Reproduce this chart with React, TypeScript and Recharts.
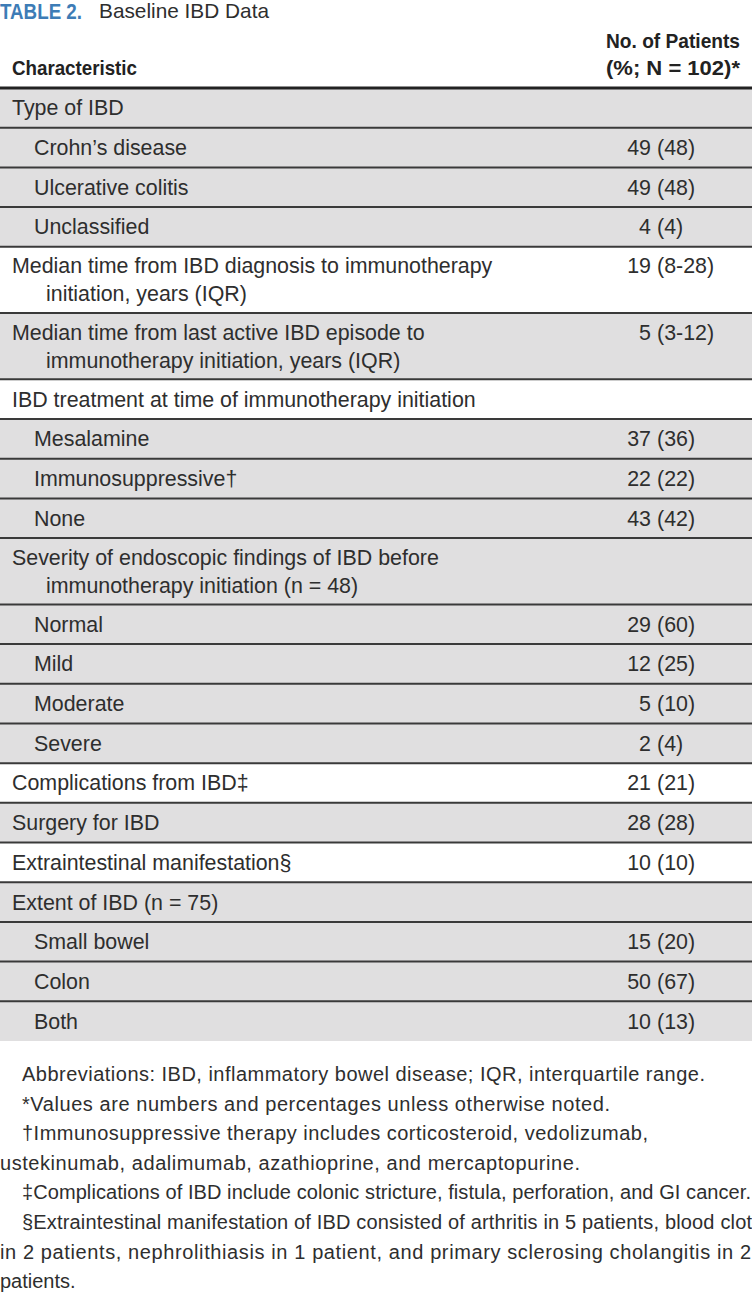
import React from "react";
import { ReferenceArea, ReferenceLine, Scatter, ScatterChart, XAxis, YAxis } from "recharts";

// table rows, top to bottom ("\n" marks where the printed label wraps)
const characteristics = [
  "Type of IBD",
  "Crohn’s disease",
  "Ulcerative colitis",
  "Unclassified",
  "Median time from IBD diagnosis to immunotherapy\ninitiation, years (IQR)",
  "Median time from last active IBD episode to\nimmunotherapy initiation, years (IQR)",
  "IBD treatment at time of immunotherapy initiation",
  "Mesalamine",
  "Immunosuppressive†",
  "None",
  "Severity of endoscopic findings of IBD before\nimmunotherapy initiation (n = 48)",
  "Normal",
  "Mild",
  "Moderate",
  "Severe",
  "Complications from IBD‡",
  "Surgery for IBD",
  "Extraintestinal manifestation§",
  "Extent of IBD (n = 75)",
  "Small bowel",
  "Colon",
  "Both",
];
const subItem = [false, true, true, true, false, false, false, true, true, true, false, true, true, true, true, false, false, false, false, true, true, true];
const patients: (number | null)[] = [null, 49, 49, 4, 19, 5, null, 37, 22, 43, null, 29, 12, 5, 2, 21, 28, 10, null, 15, 50, 10];
const percents: (string | null)[] = [null, "48", "48", "4", "8-28", "3-12", null, "36", "22", "42", null, "60", "25", "10", "4", "21", "28", "10", null, "20", "67", "13"];
const shaded = [true, true, true, true, false, true, false, true, true, true, true, true, true, true, true, false, true, false, true, true, true, true];

const footnotes = [
  "Abbreviations: IBD, inflammatory bowel disease; IQR, interquartile range.",
  "*Values are numbers and percentages unless otherwise noted.",
  "†Immunosuppressive therapy includes corticosteroid, vedolizumab,",
  "ustekinumab, adalimumab, azathioprine, and mercaptopurine.",
  "‡Complications of IBD include colonic stricture, fistula, perforation, and GI cancer.",
  "§Extraintestinal manifestation of IBD consisted of arthritis in 5 patients, blood clot",
  "in 2 patients, nephrolithiasis in 1 patient, and primary sclerosing cholangitis in 2",
  "patients.",
];
const footnoteIndent = [true, true, true, false, true, true, false, false];
const footnoteWidth: (number | null)[] = [683, 588, 626, 580, 729, 730, 751, null];

const FONT = "'Liberation Sans', Arial, sans-serif";
const NARROW = "'Liberation Sans Narrow', 'Liberation Sans', Arial, sans-serif";
const TEXT = "#2e2e2e";
const GRAY = "#e0dfe0";

const ONE_LINE = 1;
const TWO_LINES = 1.67;

let acc = 0;
const rows = characteristics.map((label, i) => {
  const h = label.includes("\n") ? TWO_LINES : ONE_LINE;
  const top = acc;
  acc += h;
  return {
    x: 0,
    y: top + h / 2,
    top,
    bottom: acc,
    label,
    sub: subItem[i],
    count: patients[i],
    pct: percents[i],
    shaded: shaded[i],
  };
});
const total = acc;

function RowText(props: any) {
  const { cx, cy, payload } = props;
  const lines: string[] = payload.label.split("\n");
  const gap = 28;
  const y0 = lines.length > 1 ? cy - gap / 2 : cy;
  const x0 = cx + (payload.sub ? 34 : 12);
  const common = { fontFamily: FONT, fontSize: 21.4, fill: TEXT, dy: "0.35em" };
  return (
    <g>
      {lines.map((t, k) => (
        <text key={k} x={k === 0 ? x0 : x0 + 34} y={y0 + k * gap} {...common}>
          {t}
        </text>
      ))}
      {payload.count !== null && (
        <>
          <text x={cx + 651} y={y0} textAnchor="end" {...common}>
            {payload.count}
          </text>
          <text x={cx + 657} y={y0} {...common}>
            ({payload.pct})
          </text>
        </>
      )}
    </g>
  );
}

export default function App() {
  return (
    <div style={{ position: "absolute", left: 0, top: 0, width: 752, height: 1295, background: "#fff", overflow: "hidden" }}>
      <svg width={752} height={88} style={{ position: "absolute", left: 0, top: 0 }}>
        <text x={0} y={11} dy="0.35em" fontFamily={NARROW} fontWeight="bold" fontSize={22} fill="#3d7cb6" textLength={82} lengthAdjust="spacingAndGlyphs">
          TABLE 2.
        </text>
        <text x={99} y={11} dy="0.35em" fontFamily={FONT} fontSize={21} fill={TEXT} textLength={170} lengthAdjust="spacingAndGlyphs">
          Baseline IBD Data
        </text>
        <text x={12} y={68} dy="0.35em" fontFamily={NARROW} fontWeight="bold" fontSize={21} fill="#222" textLength={125} lengthAdjust="spacingAndGlyphs">
          Characteristic
        </text>
        <text x={740} y={41} dy="0.35em" textAnchor="end" fontFamily={NARROW} fontWeight="bold" fontSize={21} fill="#222" textLength={134} lengthAdjust="spacingAndGlyphs">
          No. of Patients
        </text>
        <text x={740} y={68} dy="0.35em" textAnchor="end" fontFamily={NARROW} fontWeight="bold" fontSize={21} fill="#222" textLength={134} lengthAdjust="spacingAndGlyphs">
          (%; N = 102)*
        </text>
      </svg>

      <div style={{ position: "absolute", left: 0, top: 86 }}>
        <ScatterChart width={752} height={957} margin={{ top: 2, right: 0, bottom: 2, left: 0 }}>
          <XAxis type="number" dataKey="x" domain={[0, 1]} hide />
          <YAxis type="number" dataKey="y" domain={[0, total]} reversed hide />
          {rows.map((r, i) => (
            <ReferenceArea key={`a${i}`} x1={0} x2={1} y1={r.top} y2={r.bottom} fill={r.shaded ? GRAY : "#fff"} fillOpacity={1} stroke="none" />
          ))}
          {rows.slice(1).map((r, i) => (
            <ReferenceLine key={`l${i}`} y={r.top} stroke="#3a3a3a" strokeWidth={2} />
          ))}
          <ReferenceLine y={0} stroke="#222" strokeWidth={3} />
          <Scatter data={rows} shape={<RowText />} isAnimationActive={false} />
        </ScatterChart>
      </div>

      <svg width={752} height={254} style={{ position: "absolute", left: 0, top: 1041 }}>
        {footnotes.map((t, i) => {
          const w = footnoteWidth[i];
          return (
            <text
              key={i}
              x={footnoteIndent[i] ? 22 : 0}
              y={33 + i * 29.6}
              dy="0.35em"
              fontFamily={FONT}
              fontSize={20}
              fill={TEXT}
              {...(w !== null ? { textLength: w, lengthAdjust: "spacing" } : {})}
            >
              {t}
            </text>
          );
        })}
      </svg>
    </div>
  );
}
